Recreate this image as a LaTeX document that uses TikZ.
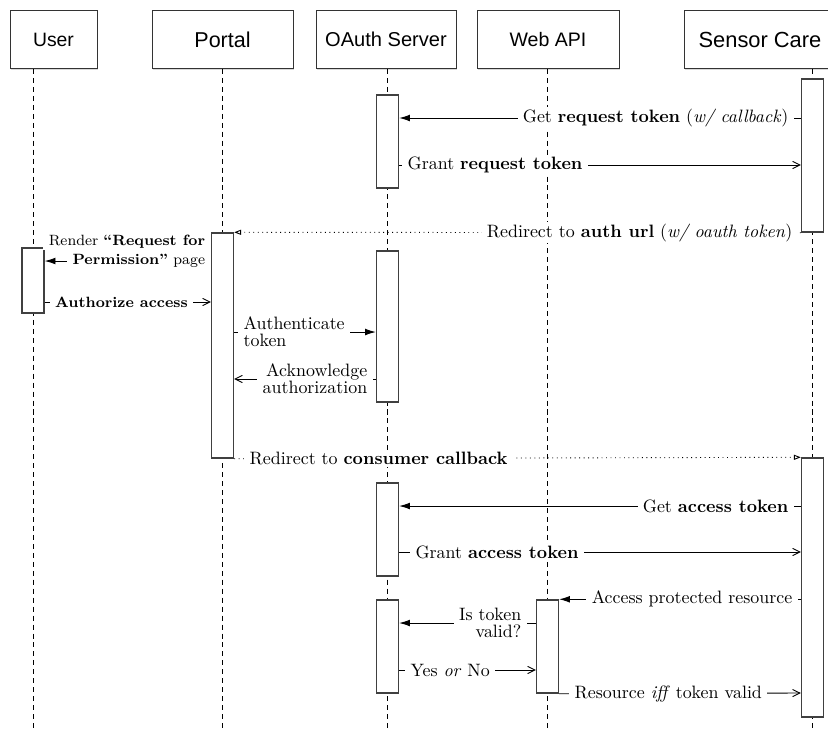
\documentclass[tikz,border=0pt]{standalone}
\usepackage{fontspec}
\newfontfamily\hdrfont{Liberation Sans}
\usetikzlibrary{arrows.meta,fit,shadows}

\begin{document}
\begin{tikzpicture}[x=0.558pt,y=-0.558pt,
  head/.style={draw=black!80, line width=0.5pt, fill=white, inner sep=0pt,
    minimum height=32.4pt,
    drop shadow={shadow xshift=0.6pt, shadow yshift=-0.6pt, opacity=0.3}},
  act/.style={draw=black!75, line width=0.8pt, fill=white, inner sep=0pt},
  life/.style={line width=0.5pt, dash pattern=on 2.8pt off 2.2pt},
  msg/.style={line width=0.5pt},
  call/.style={msg, -{Latex[length=6pt,width=3.8pt]}},
  reply/.style={msg, -{Straight Barb[length=4pt,width=4pt]}},
  redir/.style={msg, dotted, -{Triangle[open,length=3.8pt,width=2.8pt]}},
  lbl/.style={fill=white, inner xsep=3pt, inner ysep=1pt},
  two/.style={font=\fontsize{10pt}{9.5pt}\selectfont},
  smalltext/.style={font=\fontsize{8.3pt}{10pt}\selectfont},
  smallbold/.style={font=\fontsize{8.3pt}{10pt}\selectfont\bfseries},
]
\useasboundingbox (0,0) rectangle (828,728);

% participants
\node[head, minimum width=48.5pt, font=\hdrfont\fontsize{10.8pt}{13pt}\selectfont] (user) at (53.5,39.5) {User};
\node[head, minimum width=78.7pt, font=\hdrfont\fontsize{12pt}{14pt}\selectfont] (portal) at (222.5,39.5) {Portal};
\node[head, minimum width=78.1pt, font=\hdrfont\fontsize{11.2pt}{13pt}\selectfont] (oauth) at (386,39.5) {OAuth Server};
\node[head, minimum width=79.2pt, font=\hdrfont\fontsize{10.9pt}{13pt}\selectfont] (webapi) at (548,39.5) {Web API};
\node[head, minimum width=84.8pt, font=\hdrfont\fontsize{12.2pt}{14pt}\selectfont] (sensor) at (760,39.5) {Sensor Care};

% lifelines
\coordinate (uEnd) at (33,728);
\coordinate (pEnd) at (222.5,728);
\coordinate (oEnd) at (387.5,728);
\coordinate (wEnd) at (547.5,728);
\coordinate (sEnd) at (812.5,728);
\draw[life] (uEnd |- user.south) -- (uEnd);
\draw[life] (pEnd |- portal.south) -- (pEnd);
\draw[life] (oEnd |- oauth.south) -- (oEnd);
\draw[life] (wEnd |- webapi.south) -- (wEnd);
\draw[life] (sEnd |- sensor.south) -- (sEnd);

% activations
\node[act, fit={(376.5,95) (398.5,188)}] (oa1) {};
\node[act, fit={(801.5,79) (823.5,232)}] (sc1) {};
\node[act, fit={(211.5,233) (233.5,458)}] (po1) {};
\node[act, fit={(22,248) (44,313)}] (us1) {};
\node[act, fit={(376.5,251) (398.5,402)}] (oa2) {};
\node[act, fit={(801.5,458) (823.5,717)}] (sc2) {};
\node[act, fit={(376.5,483) (398.5,576)}] (oa3) {};
\node[act, fit={(376.5,600) (398.5,693)}] (oa4) {};
\node[act, fit={(536.5,600) (558.5,693)}] (wa1) {};

% message heights
\coordinate (m1) at (0,118);
\coordinate (m2) at (0,165);
\coordinate (m4) at (0,261);
\coordinate (m5) at (0,302);
\coordinate (m6) at (0,332);
\coordinate (m7) at (0,379);
\coordinate (m9) at (0,506);
\coordinate (m10) at (0,552);
\coordinate (m12) at (0,623);
\coordinate (m13) at (0,670);
\coordinate (m14) at (0,693);

% messages
\draw[call] (sc1.west |- m1) node[lbl, anchor=east, xshift=-3.7pt] (t1)
  {Get \textbf{request token} (\textit{w/ callback})} -- (oa1.east |- m1);
\draw[reply] (oa1.east |- m2) node[lbl, anchor=west, xshift=1.5pt] (t2)
  {Grant \textbf{request token}} -- (sc1.west |- m2);
\draw[redir] (sc1.south west) node[lbl, anchor=east, xshift=-1.5pt] (t3)
  {Redirect to \textbf{auth url} (\textit{w/ oauth token})} -- (po1.north east);

% two-line label: the arrow leaves from the left of its second line
\node[lbl, anchor=east, xshift=0pt, smalltext] (t4b) at (po1.west |- m4)
  {\textbf{Permission''} page};
\node[lbl, anchor=base east, smalltext] (t4a) at ([yshift=10.6pt]t4b.base east)
  {Render \textbf{``Request for}};
\draw[call] (t4b.west) -- (us1.east |- m4);

\draw[reply] (us1.east |- m5) node[lbl, anchor=west, xshift=2.6pt, smallbold] (t5)
  {Authorize access} -- (po1.west |- m5);
\draw[call] (po1.east |- m6) node[lbl, anchor=west, xshift=2pt, two, align=left] (t6)
  {Authenticate\\token} -- (oa2.west |- m6);
\draw[reply] (oa2.west |- m7) node[lbl, anchor=east, xshift=-1.5pt, two, align=right] (t7)
  {Acknowledge\\authorization} -- (po1.east |- m7);
\draw[redir] (po1.south east) node[lbl, anchor=west, xshift=5.4pt] (t8)
  {Redirect to \textbf{consumer callback}} -- (sc2.north west);
\draw[call] (sc2.west |- m9) node[lbl, anchor=east, xshift=-3.7pt] (t9)
  {Get \textbf{access token}} -- (oa3.east |- m9);
\draw[reply] (oa3.east |- m10) node[lbl, anchor=west, xshift=5.9pt] (t10)
  {Grant \textbf{access token}} -- (sc2.west |- m10);
\draw[call] (sc2.west |- wa1.north east) node[lbl, anchor=east, xshift=-1.5pt] (t11)
  {Access protected resource} -- (wa1.north east);
\draw[call] (wa1.west |- m12) node[lbl, anchor=east, xshift=-4.8pt, two, align=right] (t12)
  {Is token\\valid?} -- (oa4.east |- m12);
\draw[reply] (oa4.east |- m13) node[lbl, anchor=west, xshift=3.1pt] (t13)
  {Yes \textit{or} No} -- (wa1.west |- m13);
\draw[reply] (wa1.south east) node[lbl, anchor=west, xshift=5.4pt] (t14)
  {Resource \textit{iff} token valid} -- (sc2.west |- m14);
\end{tikzpicture}
\end{document}
